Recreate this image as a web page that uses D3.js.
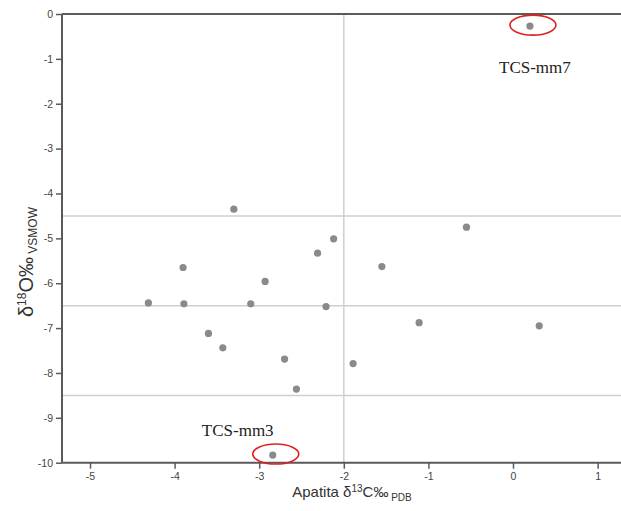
<!DOCTYPE html>
<html>
<head>
<meta charset="utf-8">
<script src="https://cdn.jsdelivr.net/npm/d3@7"></script>
<style>
  body { margin: 0; background: #fff; }
  svg { display: block; }
</style>
</head>
<body>
<svg id="chart" width="621" height="511"></svg>
<script>
// datos
const carbon = [-3.30, -2.12, -2.31, -3.90, -2.93, -4.31, -3.89, -3.10, -2.21, -3.60,
  -3.43, -2.70, -1.89, -2.56, -0.55, -1.55, -1.11, 0.31, 0.20, -2.84];
const oxygen = [-4.35, -5.01, -5.33, -5.65, -5.96, -6.44, -6.46, -6.46, -6.52, -7.12,
  -7.44, -7.69, -7.79, -8.36, -4.75, -5.63, -6.88, -6.95, -0.27, -9.83];
const xTicks = [-5, -4, -3, -2, -1, 0, 1];
const yTicks = [0, -1, -2, -3, -4, -5, -6, -7, -8, -9, -10];
const refX = [-2];
const refY = [-4.5, -6.5, -8.5];
const labels = [
  { name: "TCS-mm7", x: 0.20, y: -0.27, dx: 5, dy: 47 },
  { name: "TCS-mm3", x: -2.84, y: -9.83, dx: -35, dy: -19 }
];

const svg = d3.select("#chart");
const mLeft = 62, mRight = 640, mTop = 14, mBottom = 462.7;

const x = d3.scaleLinear().domain([-5.331, 1.4]).range([mLeft, mLeft + (1.4 + 5.331) * 84.6]);
const y = d3.scaleLinear().domain([0, -10]).range([mTop, mBottom]);

// líneas de referencia
svg.append("g").selectAll("line").data(refY).join("line")
  .attr("x1", mLeft).attr("x2", mRight)
  .attr("y1", d => y(d)).attr("y2", d => y(d))
  .attr("stroke", "#cfcfcf").attr("stroke-width", 1.5);

svg.append("g").selectAll("line").data(refX).join("line")
  .attr("x1", d => x(d)).attr("x2", d => x(d))
  .attr("y1", mTop).attr("y2", mBottom)
  .attr("stroke", "#cfcfcf").attr("stroke-width", 1.5);

// ejes (guion simple como en el original)
const plain = d => String(d);
const xAxis = svg.append("g")
  .attr("transform", `translate(0,${mBottom})`)
  .call(d3.axisBottom(x).tickValues(xTicks).tickSize(6).tickPadding(4).tickFormat(plain));
const yAxis = svg.append("g")
  .attr("transform", `translate(${mLeft},0)`)
  .call(d3.axisLeft(y).tickValues(yTicks).tickSize(6).tickPadding(3).tickFormat(plain));

[xAxis, yAxis].forEach(g => {
  g.select(".domain").attr("stroke", "#5a5a5a").attr("stroke-width", 2);
  g.selectAll(".tick line").attr("stroke", "#5a5a5a").attr("stroke-width", 1.5);
  g.selectAll(".tick text").attr("fill", "#444").attr("font-family", "Liberation Sans, Arial")
    .attr("font-size", 10.5);
});
xAxis.select(".domain").attr("d", `M${mLeft},0H${mRight}`);
yAxis.select(".domain").attr("d", `M0,${mBottom}V${mTop}`);

// borde superior
svg.append("line")
  .attr("x1", mLeft).attr("x2", mRight).attr("y1", mTop).attr("y2", mTop)
  .attr("stroke", "#5a5a5a").attr("stroke-width", 2);

// puntos
svg.append("g").selectAll("circle").data(d3.range(carbon.length)).join("circle")
  .attr("cx", i => x(carbon[i]))
  .attr("cy", i => y(oxygen[i]))
  .attr("r", 3.6)
  .attr("fill", "#8a8a8a");

// elipses y etiquetas
svg.append("g").selectAll("ellipse").data(labels).join("ellipse")
  .attr("cx", d => x(d.x) + 3)
  .attr("cy", d => y(d.y) - 1)
  .attr("rx", 23).attr("ry", 10)
  .attr("fill", "none").attr("stroke", "#e02020").attr("stroke-width", 1.6);

svg.append("g").selectAll("text").data(labels).join("text")
  .attr("x", d => x(d.x) + d.dx)
  .attr("y", d => y(d.y) + d.dy)
  .attr("text-anchor", "middle")
  .attr("font-family", "Liberation Serif, Times New Roman")
  .attr("font-size", 17)
  .attr("fill", "#222")
  .text(d => d.name);

// títulos de ejes
const xt = svg.append("text")
  .attr("x", 352).attr("y", 497)
  .attr("text-anchor", "middle")
  .attr("font-family", "Liberation Sans, Arial")
  .attr("font-size", 15).attr("fill", "#333");
xt.append("tspan").text("Apatita δ");
xt.append("tspan").attr("font-size", 10).attr("dy", -5).text("13");
xt.append("tspan").attr("dy", 5).text("C‰");
xt.append("tspan").attr("font-size", 10).attr("dy", 4).text(" PDB");

const yt = svg.append("text")
  .attr("transform", "translate(33,262) rotate(-90)")
  .attr("text-anchor", "middle")
  .attr("font-family", "Liberation Sans, Arial")
  .attr("font-size", 20).attr("fill", "#333");
yt.append("tspan").text("δ");
yt.append("tspan").attr("font-size", 12).attr("dy", -7).text("18");
yt.append("tspan").attr("dy", 7).text("O‰");
yt.append("tspan").attr("font-size", 12).attr("dy", 4).text(" VSMOW");
</script>
</body>
</html>
